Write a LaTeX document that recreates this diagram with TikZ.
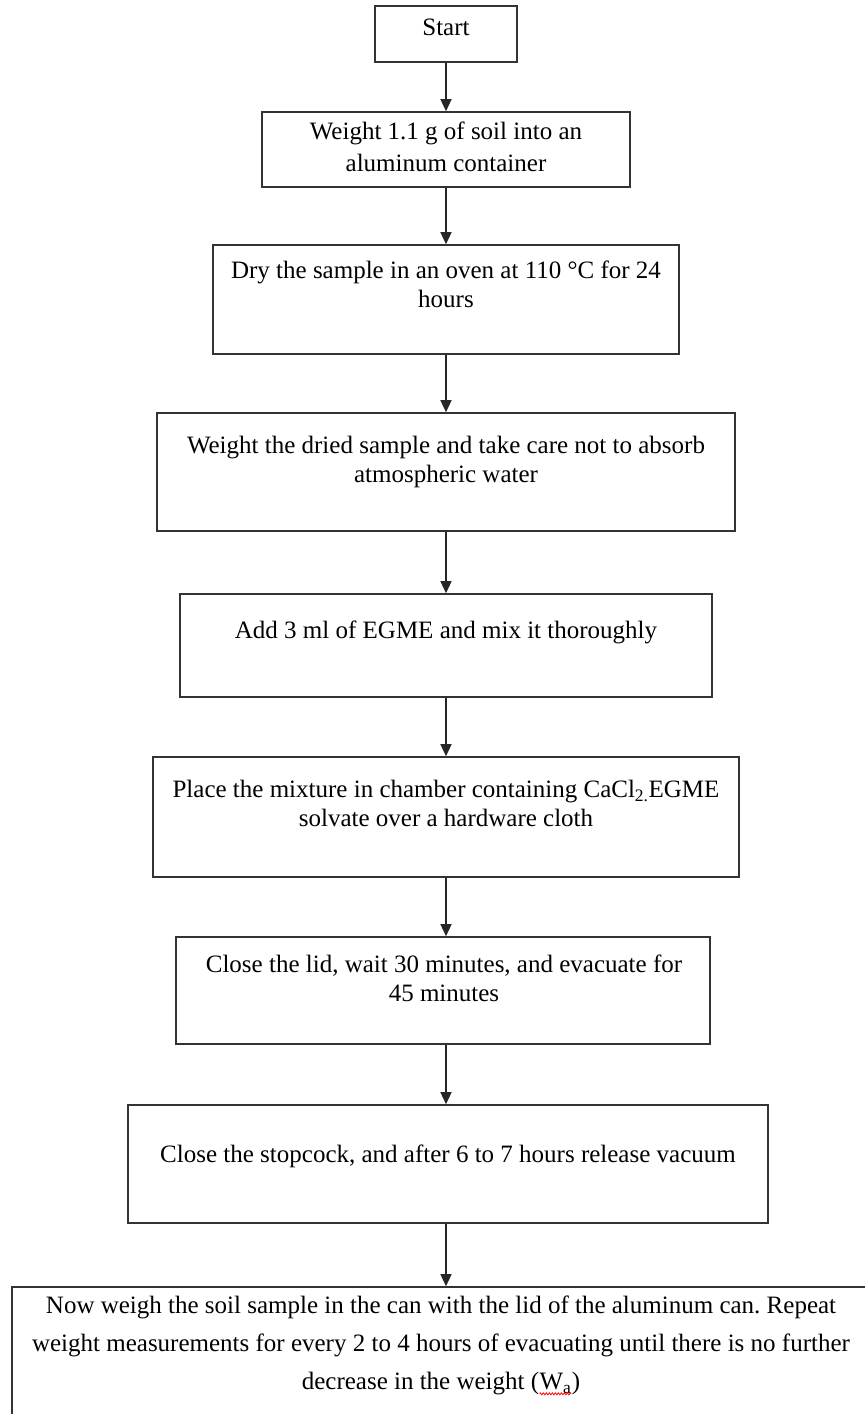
\documentclass[tikz,border=0pt]{standalone}
\usepackage{fontspec}
\setmainfont{Liberation Serif}
\usetikzlibrary{arrows.meta,decorations.pathmorphing}
\tikzset{
  stepbox/.style={draw=black!80, line width=1.6pt, rectangle, inner sep=0pt},
  txt/.style={anchor=north, align=center, inner sep=0pt, font=\fontsize{25}{29}\selectfont},
  arr/.style={draw=black!85, line width=1.3pt, -{Triangle[width=11pt,length=12pt]}},
  squig/.style={draw=red, line width=0.8pt, decorate, decoration={zigzag, segment length=3pt, amplitude=1pt}},
}
\newcommand{\boxat}[5]{% name, left, top, right, bottom
  \node[stepbox, minimum width={#4-#2}, minimum height={#5-#3}] (#1) at ({(#2+#4)/2},{(#3+#5)/2}) {};}
\newcommand{\spellmark}[1]{\tikz[baseline=(wa.base)]{\node[anchor=base, inner sep=0pt, outer sep=0pt, draw=none] (wa) {#1}; \draw[squig] ([yshift=-4pt]wa.base west) -- ([yshift=-4pt]wa.base east);}}
\begin{document}
\frenchspacing
\begin{tikzpicture}[x=1pt,y=-1pt]
\useasboundingbox (0,0) rectangle (865,1414);
\clip (0,0) rectangle (865,1414);
\boxat{b1}{375}{6}{517}{62}
\boxat{b2}{262}{112}{630}{187}
\boxat{b3}{213}{245}{679}{354}
\boxat{b4}{157}{413}{735}{531}
\boxat{b5}{180}{594}{712}{697}
\boxat{b6}{153}{757}{739}{877}
\boxat{b7}{176}{937}{710}{1044}
\boxat{b8}{128}{1105}{768}{1223}
\boxat{b9}{12}{1287}{872}{1440}

\node[txt] (t1) at (446,19) {Start};
\node[txt, font=\fontsize{25}{32}\selectfont] (t2) at (446,122) {Weight 1.1 g of soil into an\\aluminum container};
\node[txt] (t3) at (446,261) {Dry the sample in an oven at 110 °C for 24\\hours};
\node[txt] (t4) at (446,436) {Weight the dried sample and take care not to absorb\\atmospheric water};
\node[txt] (t5) at (446,621) {Add 3 ml of EGME and mix it thoroughly};
\node[txt] (t6) at (446,780) {Place the mixture in chamber containing CaCl\textsubscript{2.}EGME\\solvate over a hardware cloth};
\node[txt] (t7) at (444,955) {Close the lid, wait 30 minutes, and evacuate for\\45 minutes};
\node[txt] (t8) at (448,1145) {Close the stopcock, and after 6 to 7 hours release vacuum};
\node[txt, font=\fontsize{25}{38}\selectfont] (t9) at (441,1296) {Now weigh the soil sample in the can with the lid of the aluminum can. Repeat\\weight measurements for every 2 to 4 hours of evacuating until there is no further\\decrease in the weight (\spellmark{W\textsubscript{a}})};

\draw[arr] (b1.south) -- (b2.north);
\draw[arr] (b2.south) -- (b3.north);
\draw[arr] (b3.south) -- (b4.north);
\draw[arr] (b4.south) -- (b5.north);
\draw[arr] (b5.south) -- (b6.north);
\draw[arr] (b6.south) -- (b7.north -| b6.south);
\draw[arr] (b7.south -| b6.south) -- (b8.north -| b6.south);
\draw[arr] (b8.south -| b6.south) -- (b9.north -| b6.south);
\end{tikzpicture}
\end{document}
